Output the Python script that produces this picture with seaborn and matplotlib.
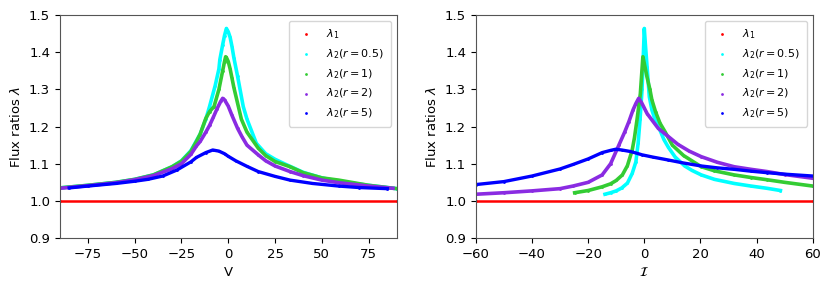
import numpy as np
import pandas as pd
import matplotlib
matplotlib.use("Agg")
import matplotlib.pyplot as plt
import seaborn as sns

# values

# left panel, x = V
v_red = [-90, 90]
lam1_v = [1.0, 1.0]

v_cyan = [-90, -75, -60, -50, -40, -30, -25, -20, -15, -12, -10, -7, -5, -4.5, -3, -2, -1,
          0, 1, 2, 3, 5, 8, 10, 15, 20, 25, 30, 40, 50, 60, 75, 90]
lam_cyan_v = [1.035, 1.042, 1.050, 1.058, 1.070, 1.092, 1.108, 1.135, 1.180, 1.220, 1.254, 1.310,
              1.355, 1.380, 1.420, 1.445, 1.464, 1.455, 1.440, 1.415, 1.385, 1.335, 1.254, 1.220,
              1.155, 1.127, 1.112, 1.100, 1.077, 1.062, 1.052, 1.042, 1.033]

v_green = [-90, -75, -60, -50, -40, -30, -25, -20, -17, -15, -12, -10, -7.6, -5, -3, -2, -1.4,
           -1, 0, 1, 2, 3, 5.4, 7, 10, 16, 20, 25, 33, 40, 50, 59, 75, 90]
lam_green_v = [1.035, 1.042, 1.050, 1.058, 1.070, 1.092, 1.107, 1.133, 1.160, 1.180, 1.222,
               1.240, 1.254, 1.300, 1.350, 1.375, 1.388, 1.386, 1.375, 1.355, 1.330, 1.305,
               1.254, 1.220, 1.185, 1.142, 1.122, 1.106, 1.092, 1.076, 1.062, 1.056, 1.042, 1.033]

v_purple = [-90, -75, -60, -50, -40, -30, -25, -20, -17, -15, -12, -10, -8, -6, -4, -3, -2, 0,
            2, 5, 7.3, 10, 16, 20, 25, 33, 40, 50, 59, 75, 88]
lam_purple_v = [1.034, 1.041, 1.049, 1.057, 1.068, 1.087, 1.100, 1.125, 1.148, 1.160, 1.185,
                1.203, 1.225, 1.248, 1.268, 1.276, 1.272, 1.255, 1.230, 1.195, 1.173, 1.150,
                1.124, 1.108, 1.094, 1.079, 1.068, 1.056, 1.049, 1.040, 1.034]

v_blue = [-85, -75, -60, -50, -43, -35, -27.5, -20, -17, -12, -8.3, -5, -2, 0, 4, 10, 16, 25,
          33, 45, 59, 70, 85]
lam_blue_v = [1.035, 1.040, 1.047, 1.053, 1.058, 1.067, 1.083, 1.105, 1.117, 1.130, 1.137,
              1.134, 1.127, 1.120, 1.108, 1.093, 1.079, 1.066, 1.056, 1.047, 1.040, 1.036, 1.033]

# right panel, x = I
i_red = [-60, 60]
lam1_i = [1.0, 1.0]

i_cyan = [-14, -12, -10, -8, -6, -4.3, -3, -2.2, -1.5, -0.8, -0.3, 0, 0.4, 1, 1.8, 2.7, 4,
          5.6, 7, 8.6, 11, 14.4, 17, 20.3, 25, 32, 38, 43.7, 48.5]
lam_cyan_i = [1.018, 1.022, 1.027, 1.035, 1.048, 1.074, 1.105, 1.155, 1.220, 1.300, 1.400,
              1.464, 1.420, 1.360, 1.280, 1.245, 1.215, 1.190, 1.165, 1.144, 1.118, 1.094,
              1.082, 1.070, 1.058, 1.047, 1.040, 1.034, 1.028]

i_green = [-24.8, -20, -15, -12, -10, -7.8, -6, -4.3, -3.5, -2.6, -1.4, -0.5, 0, 0.95, 2, 2.7,
           4, 5.6, 7.4, 10, 14, 20.3, 25, 32, 38, 43.7, 50, 60]
lam_green_i = [1.022, 1.028, 1.038, 1.046, 1.055, 1.070, 1.095, 1.137, 1.170, 1.218, 1.289,
               1.388, 1.370, 1.334, 1.300, 1.272, 1.240, 1.209, 1.186, 1.150, 1.122, 1.092,
               1.081, 1.070, 1.063, 1.057, 1.050, 1.040]

i_purple = [-60, -50, -40, -30, -25.4, -20, -15, -12, -9, -7, -5.5, -4, -3, -2, -1, 0, 1, 2.7,
            5, 8.6, 12, 16, 20.3, 26, 32, 38, 43.7, 50, 60]
lam_purple_i = [1.018, 1.022, 1.027, 1.033, 1.040, 1.050, 1.070, 1.100, 1.151, 1.185, 1.213,
                1.245, 1.262, 1.276, 1.265, 1.250, 1.235, 1.218, 1.195, 1.173, 1.152, 1.134,
                1.119, 1.104, 1.092, 1.085, 1.079, 1.071, 1.061]

i_blue = [-60, -50, -40, -30, -25.4, -20, -15, -12, -10.2, -8, -5, -3, -0.8, 3, 8.6, 14, 20.3,
          26, 32, 38, 43.7, 50, 60]
lam_blue_i = [1.044, 1.052, 1.067, 1.086, 1.098, 1.113, 1.130, 1.136, 1.139, 1.137, 1.133,
              1.129, 1.124, 1.118, 1.110, 1.102, 1.094, 1.089, 1.085, 1.080, 1.076, 1.072, 1.067]

labels = [r'$\lambda_1$', r'$\lambda_2(r=0.5)$', r'$\lambda_2(r=1)$',
          r'$\lambda_2(r=2)$', r'$\lambda_2(r=5)$']
colors = ['#ff0000', '#00ffff', '#33cc33', '#8a2be2', '#0000ff']
widths = [1.8, 2.6, 2.6, 2.6, 2.4]

left_series = [(v_red, lam1_v), (v_cyan, lam_cyan_v), (v_green, lam_green_v),
               (v_purple, lam_purple_v), (v_blue, lam_blue_v)]
right_series = [(i_red, lam1_i), (i_cyan, lam_cyan_i), (i_green, lam_green_i),
                (i_purple, lam_purple_i), (i_blue, lam_blue_i)]

plt.rcParams['font.family'] = ['DejaVu Sans']
plt.rcParams['font.size'] = 9.5

fig, axes = plt.subplots(1, 2, figsize=(8.31, 2.90), dpi=100)
fig.subplots_adjust(left=0.072, right=0.978, bottom=0.179, top=0.948, wspace=0.235)


def draw_panel(ax, series, xlim, xticks, xlabel):
    for (xs, ys), lab, col, lw in zip(series, labels, colors, widths):
        d = pd.DataFrame({'x': xs, 'y': ys})
        sns.lineplot(data=d, x='x', y='y', color=col, linewidth=lw, ax=ax, legend=False)
        sns.scatterplot(data=d, x='x', y='y', color=col, s=4, linewidth=0, ax=ax, label=lab)
    ax.set_xlim(*xlim)
    ax.set_ylim(0.9, 1.5)
    ax.set_xticks(xticks)
    ax.set_yticks(np.round(np.arange(0.9, 1.51, 0.1), 1))
    ax.set_xlabel(xlabel)
    ax.set_ylabel(r'Flux ratios $\lambda$')
    for sp in ax.spines.values():
        sp.set_color('#555555')
    ax.legend(loc='upper right', fontsize=8, markerscale=1.0, handletextpad=0.8,
              borderpad=0.6, labelspacing=0.55)


draw_panel(axes[0], left_series, (-90, 90), [-75, -50, -25, 0, 25, 50, 75], 'V')
draw_panel(axes[1], right_series, (-60, 60), [-60, -40, -20, 0, 20, 40, 60], r'$\mathcal{I}$')

fig.savefig('out.png', dpi=100)
